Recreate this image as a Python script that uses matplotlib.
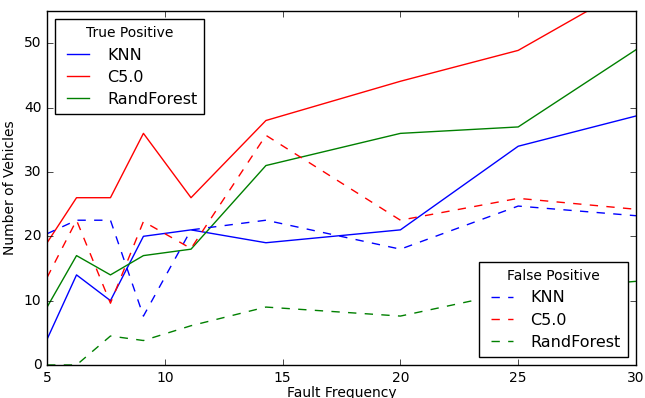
import numpy as np
import matplotlib
matplotlib.use('Agg')
import matplotlib.pyplot as plt

plt.style.use('classic')

# fault frequency values (100 / n)
freq = [5, 6.25, 7.69, 9.09, 11.11, 14.29, 20, 25, 30]

tp_knn = [4, 14, 10, 20, 21, 19, 21, 34, 38.7]
tp_c50 = [19, 26, 26, 36, 26, 38, 44.1, 48.9, 59.3]
tp_rf = [9, 17, 14, 17, 18, 31, 36, 37, 49]

fp_knn = [20.4, 22.5, 22.5, 7.6, 21, 22.5, 18, 24.7, 23.2]
fp_c50 = [13.6, 22.5, 9.6, 22.3, 18.1, 35.7, 22.5, 25.9, 24.2]
fp_rf = [0, 0, 4.5, 3.8, 6.1, 9, 7.6, 11.5, 13]

names = ['KNN', 'C5.0', 'RandForest']
colors = ['b', 'r', 'g']

fig = plt.figure(figsize=(6.45, 3.98), dpi=100, facecolor='white')
ax = fig.add_axes([0.073, 0.083, 0.913, 0.889])

tp_lines = []
for vals, c, nm in zip([tp_knn, tp_c50, tp_rf], colors, names):
    l, = ax.plot(freq, vals, color=c, linestyle='-', label=nm)
    tp_lines.append(l)
fp_lines = []
for vals, c, nm in zip([fp_knn, fp_c50, fp_rf], colors, names):
    l, = ax.plot(freq, vals, color=c, linestyle='--', label=nm)
    fp_lines.append(l)

ax.set_xlim(5, 30)
ax.set_ylim(0, 55)
ax.set_xticks([5, 10, 15, 20, 25, 30])
ax.set_yticks([0, 10, 20, 30, 40, 50])
ax.tick_params(labelsize=10)
ax.set_xlabel('Fault Frequency', fontsize=10, labelpad=1)
ax.set_ylabel('Number of Vehicles', fontsize=10)

leg_kw = dict(fontsize=11.5, borderaxespad=0.5, labelspacing=0.45,
              handlelength=2.0, borderpad=0.45)
leg1 = ax.legend(handles=tp_lines, loc='upper left', title='True Positive', **leg_kw)
leg1.get_title().set_fontsize(10)
ax.add_artist(leg1)
leg2 = ax.legend(handles=fp_lines, loc='lower right', title='False Positive', **leg_kw)
leg2.get_title().set_fontsize(10)

fig.savefig('out.png', dpi=100, facecolor='white')
